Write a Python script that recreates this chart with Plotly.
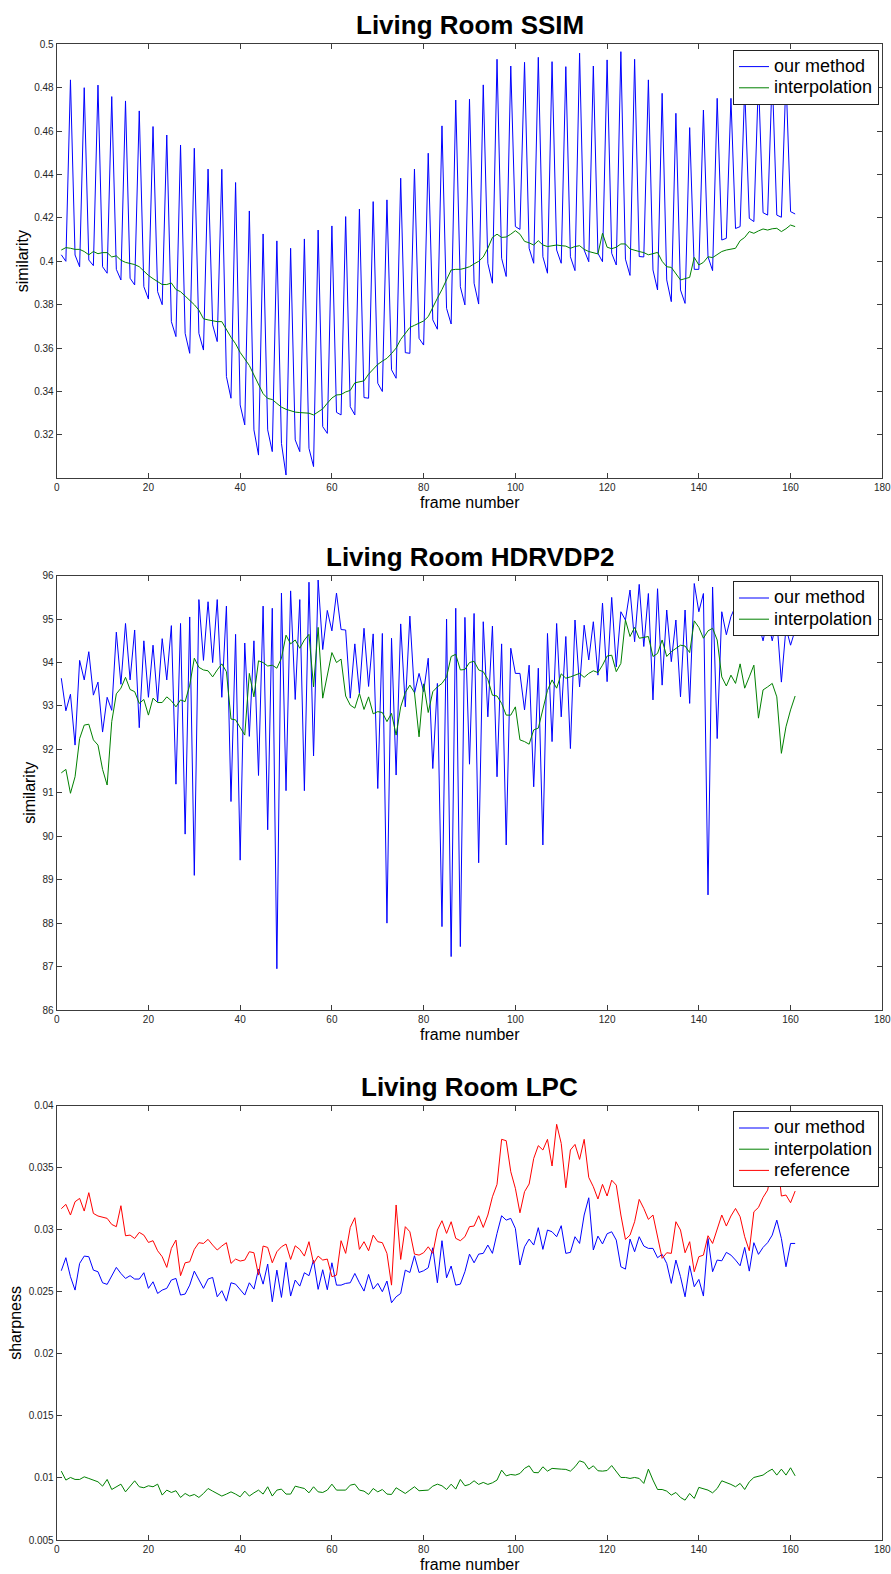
import plotly.graph_objects as go

# ---------------- data ----------------
frames = list(range(1, 162))

ssim_ours = [
0.403,0.400,0.4836, 0.4029,0.3975,0.4800, 0.4006,0.3980,0.4812, 0.3975,0.3945,0.4759,
0.3963,0.3914,0.4739, 0.3922,0.3891,0.4693, 0.3883,0.3826,0.4621, 0.3860,0.3800,0.4582,
0.3722,0.3653,0.4536, 0.3668,0.3576,0.4521, 0.3668,0.3591,0.4425, 0.3707,0.3630,0.4424,
0.3469,0.3369,0.4363, 0.3338,0.3246,0.4232, 0.3223,0.3107,0.4126, 0.3223,0.3123,0.4094,
0.3161,0.3015,0.4060, 0.3177,0.3123,0.4103, 0.3138,0.3054,0.4144, 0.3238,0.3207,0.4163,
0.3304,0.3292,0.4206, 0.3330,0.3292,0.4241, 0.3372,0.3369,0.4275, 0.3438,0.3400,0.4283,
0.3500,0.3461,0.4383, 0.3579,0.3576,0.4425, 0.3645,0.3614,0.4498, 0.3730,0.3687,0.4624,
0.3783,0.3711,0.4743, 0.3883,0.3799,0.4747, 0.3899,0.3803,0.4813, 0.3991,0.3899,0.4931,
0.4014,0.3930,0.4900, 0.4160,0.4147,0.4917, 0.4060,0.3991,0.4940, 0.4021,0.3945,0.4920,
0.4052,0.3991,0.4897, 0.4021,0.3957,0.4959, 0.4052,0.3998,0.4900, 0.4037,0.3998,0.4928,
0.4037,0.3983,0.4966, 0.4010,0.3935,0.4931, 0.4022,0.4020,0.4836, 0.3960,0.3868,0.4774,
0.3914,0.3814,0.4682, 0.3868,0.3806,0.4616, 0.3963,0.3963,0.4697, 0.4021,0.3957,0.4751,
0.4098,0.4106,0.4751, 0.4151,0.4160,0.4800, 0.4198,0.4183,0.4840, 0.4224,0.4213,0.4860,
0.4213,0.4203,0.4850, 0.4229,0.4218]

ssim_interp = [
0.4052,0.4063,0.4060,0.4055,0.4055,0.4045,0.4030,0.4045,0.4035,0.4040,
0.4040,0.4020,0.4025,0.4005,0.3995,0.3990,0.3985,0.3975,0.3955,0.3935,
0.3920,0.3905,0.3893,0.3893,0.3900,0.3870,0.3860,0.3840,0.3820,0.3800,
0.3775,0.3735,0.3730,0.3725,0.3722,0.3722,0.3684,0.3650,0.3620,0.3580,
0.3550,0.3520,0.3476,0.3430,0.3390,0.3368,0.3363,0.3345,0.3328,0.3318,
0.3312,0.3305,0.3303,0.3301,0.3300,0.3292,0.3305,0.3320,0.3346,0.3370,
0.3384,0.3386,0.3398,0.3405,0.3440,0.3445,0.3449,0.3480,0.3505,0.3525,
0.3540,0.3553,0.3575,0.3600,0.3640,0.3670,0.3695,0.3705,0.3715,0.3725,
0.3745,0.3790,0.3830,0.3870,0.3915,0.3960,0.3963,0.3963,0.3968,0.3975,
0.3988,0.4000,0.4020,0.4060,0.4110,0.4125,0.4110,0.4112,0.4125,0.4141,
0.4125,0.4092,0.4085,0.4075,0.4095,0.4075,0.4068,0.4072,0.4075,0.4072,
0.4070,0.4060,0.4068,0.4072,0.4055,0.4045,0.4040,0.4034,0.4129,0.4065,
0.4058,0.4065,0.4080,0.4080,0.4057,0.4050,0.4045,0.4040,0.4030,0.4035,
0.4041,0.4000,0.3975,0.3972,0.3945,0.3914,0.3920,0.3926,0.4018,0.3983,
0.3995,0.4021,0.4017,0.4030,0.4045,0.4052,0.4055,0.4060,0.4095,0.4110,
0.4137,0.4129,0.4140,0.4149,0.4144,0.4150,0.4152,0.4137,0.4150,0.4167,
0.4160]

hdr_ours = [
93.64,92.89,93.27,92.10,94.05,93.60,94.25,93.25,93.55,92.40,
93.20,92.90,94.70,93.50,94.90,93.60,94.75,92.50,94.50,93.20,
94.40,93.10,94.55,93.60,94.85,91.20,94.90,90.05,95.05,89.10,
95.45,94.05,95.40,94.00,95.45,93.20,95.30,90.80,94.65,89.45,
94.45,92.30,94.50,91.40,95.30,90.15,95.25,86.95,95.60,91.05,
95.65,93.15,95.45,91.05,95.85,91.85,95.90,94.30,95.20,94.73,
95.60,94.76,94.75,93.18,94.43,93.30,94.79,93.45,94.66,91.10,
94.67,88.00,94.56,91.41,94.89,92.98,95.07,93.29,93.75,93.33,
94.10,91.56,93.52,87.92,95.00,87.23,95.25,87.46,95.04,91.66,
95.13,89.39,94.94,92.75,94.84,91.37,94.43,89.80,94.33,93.75,
93.75,92.91,93.94,91.14,93.87,89.80,94.67,92.18,94.90,92.75,
94.60,92.02,94.98,93.44,94.86,94.06,94.94,93.71,95.37,93.56,
95.50,93.90,95.17,94.98,95.67,94.48,95.80,94.37,95.59,93.14,
95.70,93.48,95.21,94.02,94.98,93.21,95.21,93.06,95.82,95.17,
95.59,88.65,95.74,92.25,95.17,94.64,95.06,95.30,94.90,95.35,
94.95,95.40,94.90,94.50,95.00,94.50,95.00,93.55,94.80,94.40,
94.75]

hdr_interp = [
91.46,91.54,90.99,91.37,92.25,92.56,92.58,92.22,92.10,91.54,
91.18,92.64,93.28,93.41,93.66,93.38,93.33,93.06,93.15,92.79,
93.18,93.08,93.08,93.21,93.12,92.98,93.14,93.10,93.48,94.10,
93.89,93.83,93.81,93.67,93.83,93.97,93.79,92.70,92.68,92.52,
92.33,93.75,93.21,94.04,94.00,93.92,93.94,93.87,94.10,94.63,
94.43,94.52,94.33,94.52,94.65,93.44,94.81,93.18,93.75,94.23,
94.00,94.08,93.23,93.02,92.95,93.29,92.92,93.21,92.82,92.87,
92.85,92.64,92.83,92.33,92.98,93.31,93.48,93.31,92.29,93.51,
92.85,93.33,93.44,93.52,93.67,94.14,94.19,93.83,93.84,94.00,
94.03,93.83,93.79,93.61,93.25,93.23,93.06,92.79,92.79,92.98,
92.22,92.18,92.12,92.45,92.49,92.91,93.36,93.60,93.41,93.74,
93.64,93.67,93.71,93.75,93.66,93.75,93.81,93.77,93.94,94.15,
94.17,93.79,93.98,94.98,94.60,94.81,94.56,94.58,94.60,94.14,
94.21,94.52,94.14,94.25,94.33,94.40,94.38,94.23,94.96,94.81,
94.56,94.73,94.79,94.52,93.67,93.46,93.71,93.52,93.97,93.41,
93.67,93.94,92.72,93.37,93.44,93.52,93.21,91.91,92.52,92.91,
93.23]

lpc_ours = [
0.02670,0.02775,0.02622,0.02514,0.02729,0.02788,0.02783,0.02675,0.02662,0.02573,
0.02560,0.02635,0.02697,0.02648,0.02608,0.02630,0.02603,0.02603,0.02654,0.02528,
0.02581,0.02487,0.02514,0.02528,0.02595,0.02608,0.02474,0.02482,0.02554,0.02667,
0.02600,0.02528,0.02603,0.02616,0.02460,0.02509,0.02425,0.02573,0.02562,0.02520,
0.02474,0.02573,0.02522,0.02683,0.02562,0.02724,0.02420,0.02675,0.02455,0.02737,
0.02466,0.02595,0.02546,0.02654,0.02630,0.02756,0.02520,0.02678,0.02517,0.02734,
0.02554,0.02554,0.02568,0.02573,0.02648,0.02573,0.02506,0.02640,0.02522,0.02568,
0.02501,0.02587,0.02412,0.02460,0.02487,0.02675,0.02656,0.02791,0.02656,0.02670,
0.02694,0.02855,0.02573,0.02912,0.02613,0.02708,0.02554,0.02562,0.02662,0.02804,
0.02734,0.02804,0.02810,0.02877,0.02810,0.02971,0.03113,0.03078,0.03092,0.03011,
0.02716,0.02863,0.02925,0.02877,0.03017,0.02842,0.02998,0.02984,0.02944,0.03033,
0.02810,0.02818,0.02944,0.02890,0.03119,0.03258,0.02837,0.02949,0.02886,0.02968,
0.02984,0.02917,0.02702,0.02683,0.02925,0.02823,0.02944,0.02869,0.02850,0.02850,
0.02775,0.02802,0.02729,0.02568,0.02756,0.02622,0.02460,0.02710,0.02541,0.02600,
0.02466,0.02930,0.02662,0.02756,0.02750,0.02818,0.02796,0.02756,0.02710,0.02858,
0.02667,0.02896,0.02802,0.02858,0.02896,0.02957,0.03078,0.02930,0.02702,0.02890,
0.02890]

lpc_interp = [
0.01055,0.00983,0.01004,0.00988,0.00988,0.01009,0.00996,0.00983,0.00969,0.00934,
0.00988,0.00907,0.00929,0.00950,0.00888,0.00934,0.00977,0.00929,0.00921,0.00937,
0.00929,0.00950,0.00862,0.00902,0.00883,0.00897,0.00843,0.00875,0.00854,0.00867,
0.00843,0.00875,0.00915,0.00894,0.00875,0.00854,0.00870,0.00888,0.00870,0.00848,
0.00894,0.00854,0.00880,0.00902,0.00870,0.00929,0.00854,0.00902,0.00910,0.00870,
0.00870,0.00934,0.00924,0.00915,0.00880,0.00929,0.00888,0.00883,0.00902,0.00950,
0.00902,0.00902,0.00902,0.00942,0.00950,0.00902,0.00894,0.00867,0.00915,0.00888,
0.00907,0.00870,0.00867,0.00921,0.00897,0.00875,0.00902,0.00929,0.00897,0.00902,
0.00902,0.00934,0.00950,0.00937,0.00907,0.00950,0.00910,0.00988,0.00937,0.00948,
0.00977,0.00948,0.00964,0.00948,0.00961,0.00983,0.01063,0.01017,0.01028,0.01023,
0.01036,0.01077,0.01098,0.01044,0.01042,0.01090,0.01055,0.01077,0.01077,0.01071,
0.01069,0.01055,0.01090,0.01138,0.01125,0.01071,0.01098,0.01058,0.01055,0.01060,
0.01100,0.01050,0.01004,0.01004,0.00996,0.01004,0.00996,0.00956,0.01071,0.00983,
0.00907,0.00907,0.00894,0.00862,0.00883,0.00843,0.00821,0.00875,0.00835,0.00924,
0.00915,0.00902,0.00880,0.00915,0.00977,0.00964,0.00948,0.00929,0.00956,0.00907,
0.00969,0.01004,0.01015,0.01023,0.01050,0.01071,0.01023,0.01071,0.01023,0.01082,
0.01017]

lpc_ref = [
0.03170,0.03205,0.03119,0.03226,0.03253,0.03151,0.03299,0.03132,0.03111,0.03100,
0.03092,0.03043,0.03025,0.03194,0.02952,0.02957,0.02930,0.02979,0.02957,0.02898,
0.02912,0.02831,0.02783,0.02697,0.02850,0.02917,0.02630,0.02734,0.02742,0.02842,
0.02896,0.02890,0.02923,0.02877,0.02837,0.02869,0.02896,0.02729,0.02764,0.02748,
0.02756,0.02823,0.02815,0.02635,0.02869,0.02858,0.02734,0.02823,0.02863,0.02885,
0.02761,0.02871,0.02842,0.02788,0.02904,0.02729,0.02788,0.02756,0.02764,0.02622,
0.02635,0.02912,0.02810,0.03019,0.03097,0.02842,0.02904,0.02831,0.02957,0.02904,
0.02896,0.02810,0.02554,0.03200,0.02761,0.03025,0.02984,0.02804,0.02796,0.02815,
0.02863,0.02810,0.02998,0.03073,0.02971,0.03065,0.02931,0.02912,0.02944,0.03025,
0.03030,0.03113,0.03019,0.03119,0.03266,0.03366,0.03729,0.03718,0.03468,0.03334,
0.03137,0.03307,0.03369,0.03575,0.03678,0.03643,0.03729,0.03514,0.03850,0.03696,
0.03339,0.03643,0.03688,0.03567,0.03729,0.03422,0.03347,0.03248,0.03366,0.03272,
0.03400,0.03360,0.03119,0.02922,0.02957,0.03065,0.03245,0.03172,0.03084,0.03119,
0.02944,0.02770,0.02815,0.02810,0.03065,0.02998,0.02815,0.02904,0.02662,0.02783,
0.02796,0.02952,0.02890,0.03003,0.03119,0.03030,0.03111,0.03172,0.03105,0.02944,
0.02831,0.03145,0.03180,0.03261,0.03320,0.03500,0.03620,0.03272,0.03280,0.03218,
0.03312]

x_ticks = [0, 20, 40, 60, 80, 100, 120, 140, 160, 180]
ssim_ticks = [0.32, 0.34, 0.36, 0.38, 0.40, 0.42, 0.44, 0.46, 0.48, 0.50]
ssim_ticktext = ["0.32", "0.34", "0.36", "0.38", "0.4", "0.42", "0.44", "0.46", "0.48", "0.5"]
hdr_ticks = [86, 87, 88, 89, 90, 91, 92, 93, 94, 95, 96]
lpc_ticks = [0.005, 0.01, 0.015, 0.02, 0.025, 0.03, 0.035, 0.04]
lpc_ticktext = ["0.005", "0.01", "0.015", "0.02", "0.025", "0.03", "0.035", "0.04"]

titles = ["Living Room SSIM", "Living Room HDRVDP2", "Living Room LPC"]
ylabels = ["similarity", "similarity", "sharpness"]
xlabel = "frame number"
series_names = ["our method", "interpolation", "reference"]

# ---------------- layout helpers ----------------
W, H = 891, 1574
FONT = "Liberation Sans, Arial, Helvetica, sans-serif"
BLUE, GREEN, RED = "#0000ff", "#008000", "#ff0000"
AX = "#3c3c3c"

def px(x):
    return x / W

def py(y):
    return 1 - y / H

def lname(s):
    # larger glyphs inside a compact legend row
    return '<span style="font-size:18px">' + s + '</span>'

left, right = 56.7, 882.3
boxes = [(44.3, 478.3), (575.7, 1010.0), (1105.7, 1540.0)]

fig = go.Figure()

def add(xa, ya, y, name, color, legend):
    fig.add_trace(go.Scatter(x=frames, y=y, mode="lines", name=lname(name),
                             line=dict(color=color, width=1),
                             xaxis=xa, yaxis=ya, legend=legend))

add("x", "y", ssim_ours, series_names[0], BLUE, "legend")
add("x", "y", ssim_interp, series_names[1], GREEN, "legend")
add("x2", "y2", hdr_ours, series_names[0], BLUE, "legend2")
add("x2", "y2", hdr_interp, series_names[1], GREEN, "legend2")
add("x3", "y3", lpc_ours, series_names[0], BLUE, "legend3")
add("x3", "y3", lpc_interp, series_names[1], GREEN, "legend3")
add("x3", "y3", lpc_ref, series_names[2], RED, "legend3")

axis_common = dict(showline=True, linecolor=AX, linewidth=1, mirror="ticks",
                   ticks="inside", ticklen=5, tickcolor=AX, tickwidth=1,
                   showgrid=False, zeroline=False, automargin=False,
                   ticklabeloverflow="allow",
                   tickfont=dict(family=FONT, size=10, color="#262626"))

yconf = [
    dict(range=[0.3, 0.5], tickvals=ssim_ticks, ticktext=ssim_ticktext),
    dict(range=[86, 96], tickvals=hdr_ticks, ticktext=[str(v) for v in hdr_ticks]),
    dict(range=[0.005, 0.04], tickvals=lpc_ticks, ticktext=lpc_ticktext),
]

layout = dict(width=W, height=H, autosize=False,
              margin=dict(l=0, r=0, t=0, b=0, pad=0, autoexpand=False),
              paper_bgcolor="white", plot_bgcolor="white", showlegend=True)

annotations = []
ylab_x = [22, 30, 16]
for i, (top, bot) in enumerate(boxes):
    sfx = "" if i == 0 else str(i + 1)
    layout["xaxis" + sfx] = dict(axis_common, domain=[px(left), px(right)],
                                 range=[0, 180], tickvals=x_ticks,
                                 anchor="y" + sfx)
    layout["yaxis" + sfx] = dict(axis_common, domain=[py(bot), py(top)],
                                 anchor="x" + sfx, **yconf[i])
    layout["legend" if i == 0 else "legend" + str(i + 1)] = dict(
        x=px(733.0), xanchor="left", y=py(top + 5.7), yanchor="top",
        bgcolor="white", bordercolor="#222222", borderwidth=1,
        font=dict(family=FONT, size=14, color="black"),
        tracegroupgap=0, itemwidth=30)
    cx = px((left + right) / 2)
    annotations.append(dict(text="<b>" + titles[i] + "</b>", x=cx, y=py(top - 19),
                            xref="paper", yref="paper", showarrow=False,
                            xanchor="center", yanchor="middle",
                            font=dict(family=FONT, size=26, color="black")))
    annotations.append(dict(text=xlabel, x=cx, y=py(bot + 24),
                            xref="paper", yref="paper", showarrow=False,
                            xanchor="center", yanchor="middle",
                            font=dict(family=FONT, size=16, color="black")))
    annotations.append(dict(text=ylabels[i], x=px(ylab_x[i]), y=py((top + bot) / 2),
                            xref="paper", yref="paper", showarrow=False,
                            xanchor="center", yanchor="middle", textangle=-90,
                            font=dict(family=FONT, size=16, color="black")))

layout["annotations"] = annotations
fig.update_layout(**layout)

# keep the page free of default body margins so the figure sits at (0, 0)
page_fix = ("document.body.style.margin='0';document.body.style.padding='0';"
            "document.documentElement.style.margin='0';"
            "document.documentElement.style.overflow='hidden';")

fig.write_html("out.html", post_script=page_fix)
